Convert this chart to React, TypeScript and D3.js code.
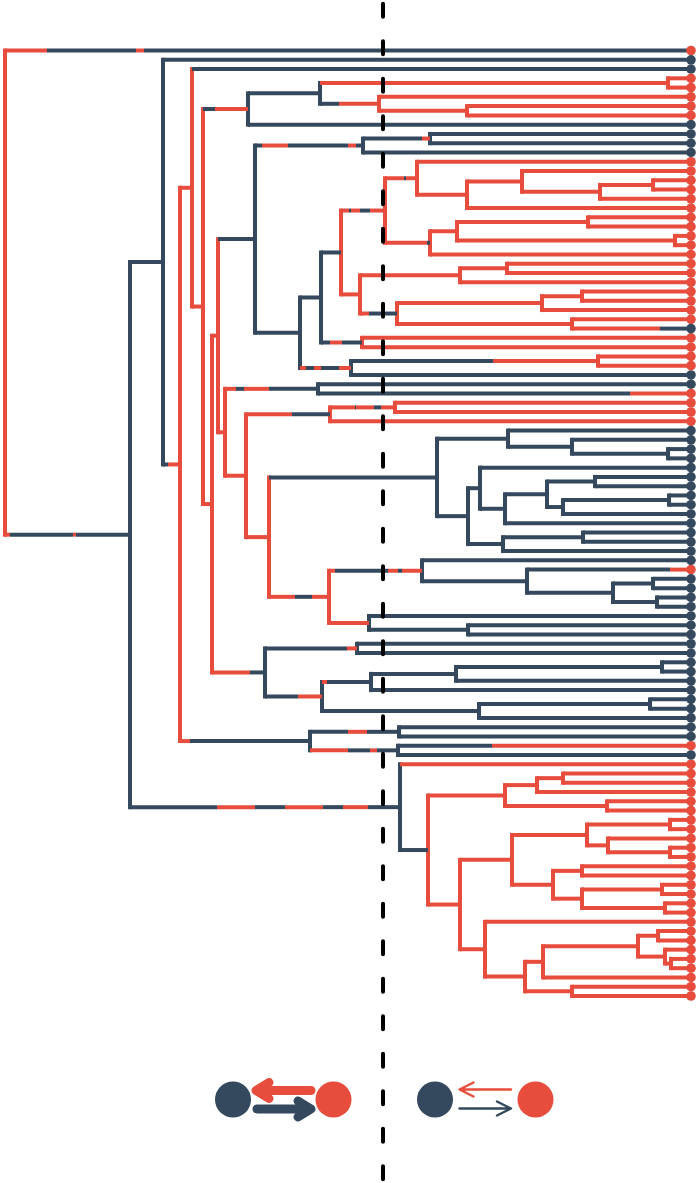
import React, { useMemo } from "react";
import * as d3 from "d3";

const BLUE = "#34495e";
const RED = "#e74c3c";
const STATE_COLOR: Record<string, string> = { b: BLUE, r: RED };

// Tree nodes: [id, parent, node depth (null = tip), branch painting (state + change points), node mark (vertical / tip state)]
const NODES: [string, string, number | null, string, string][] = [
  ["root", "", 5, "", "r"],
  ["t0", "root", null, "r47b136r144b", "r"],
  ["N1", "root", 130, "r10b73r76b", "b"],
  ["N2", "N1", 163, "b", "b"],
  ["t1", "N2", null, "b", "b"],
  ["N3", "N2", 180, "b168r", "r"],
  ["N4", "N3", 192, "r", "r"],
  ["t2", "N4", null, "b", "b"],
  ["N5", "N4", 203, "r", "r"],
  ["N6", "N5", 248, "b215r", "b"],
  ["N7", "N6", 320, "b", "b"],
  ["C34", "N7", 668, "r", "r"],
  ["t3", "C34", null, "r", "r"],
  ["t4", "C34", null, "r", "r"],
  ["AA", "N7", 379, "b339r", "r"],
  ["t5", "AA", null, "r", "r"],
  ["C67", "AA", 467, "r", "r"],
  ["t6", "C67", null, "r", "r"],
  ["t7", "C67", null, "r", "r"],
  ["t8", "N6", null, "b", "b"],
  ["N8", "N5", 212, "r", "r"],
  ["N9", "N8", 218, "r", "r"],
  ["Y", "N9", 255, "b", "b"],
  ["Z", "Y", 363, "b262r288b348r356b", "b"],
  ["C910", "Z", 430, "b422r", "b"],
  ["t9", "C910", null, "b", "b"],
  ["t10", "C910", null, "b", "b"],
  ["t11", "Z", null, "b", "b"],
  ["X", "Y", 300, "b", "b"],
  ["T", "X", 321, "b", "b"],
  ["Q", "T", 341, "b", "r"],
  ["P", "Q", 385, "r349b351r360b370r", "r"],
  ["A", "P", 417, "r404b406r", "r"],
  ["t12", "A", null, "r", "r"],
  ["B", "A", 467, "r", "r"],
  ["C", "B", 522, "r", "r"],
  ["t13", "C", null, "r", "r"],
  ["D", "C", 600, "r", "r"],
  ["E", "D", 653, "r", "r"],
  ["t14", "E", null, "r", "r"],
  ["t15", "E", null, "r", "r"],
  ["t16", "D", null, "r", "r"],
  ["t17", "B", null, "r", "r"],
  ["F", "P", 430, "r427b", "r"],
  ["G", "F", 457, "r", "r"],
  ["H", "G", 588, "r", "r"],
  ["t18", "H", null, "r", "r"],
  ["t19", "H", null, "r", "r"],
  ["I", "G", 675, "r", "r"],
  ["t20", "I", null, "r", "r"],
  ["t21", "I", null, "r", "r"],
  ["t22", "F", null, "r", "r"],
  ["R", "Q", 360, "r", "r"],
  ["J", "R", 460, "r", "r"],
  ["K", "J", 507, "r", "r"],
  ["t23", "K", null, "r", "r"],
  ["t24", "K", null, "r", "r"],
  ["t25", "J", null, "r", "r"],
  ["S", "R", 397, "r369b", "r"],
  ["L", "S", 542, "r", "r"],
  ["M", "L", 582, "r", "r"],
  ["t26", "M", null, "r", "r"],
  ["t27", "M", null, "r", "r"],
  ["t28", "L", null, "r", "r"],
  ["C2930", "S", 572, "r", "r"],
  ["t29", "C2930", null, "r", "r"],
  ["t30", "C2930", null, "r660b", "b"],
  ["U", "T", 362, "b330r342b", "r"],
  ["t31", "U", null, "r", "r"],
  ["t32", "U", null, "r", "r"],
  ["V", "X", 351, "r306b314r321b339r", "b"],
  ["W", "V", 598, "b493r", "r"],
  ["t33", "W", null, "r", "r"],
  ["t34", "W", null, "r", "r"],
  ["t35", "V", null, "b", "b"],
  ["N10", "N9", 225, "r", "r"],
  ["O", "N10", 318, "r236b244r269b", "b"],
  ["t36", "O", null, "b", "b"],
  ["t37", "O", null, "b630r", "r"],
  ["N11", "N10", 246, "r", "r"],
  ["NN", "N11", 330, "r292b", "r"],
  ["C3839", "NN", 395, "r355b356r374b381r", "r"],
  ["t38", "C3839", null, "r", "r"],
  ["t39", "C3839", null, "r", "r"],
  ["t40", "NN", null, "r", "r"],
  ["N14", "N11", 269, "r", "r"],
  ["BC", "N14", 437, "b", "b"],
  ["BC1", "BC", 508, "b", "b"],
  ["t41", "BC1", null, "b", "b"],
  ["BC2", "BC1", 572, "b", "b"],
  ["t42", "BC2", null, "b", "b"],
  ["C4344", "BC2", 668, "b", "b"],
  ["t43", "C4344", null, "b", "b"],
  ["t44", "C4344", null, "b", "b"],
  ["BC3", "BC", 468, "b", "b"],
  ["BC4", "BC3", 480, "b", "b"],
  ["t45", "BC4", null, "b", "b"],
  ["BC5", "BC4", 505, "b", "b"],
  ["BC6", "BC5", 547, "b", "b"],
  ["C4647", "BC6", 595, "b", "b"],
  ["t46", "C4647", null, "b", "b"],
  ["t47", "C4647", null, "b", "b"],
  ["BC7", "BC6", 563, "b", "b"],
  ["C4849", "BC7", 669, "b", "b"],
  ["t48", "C4849", null, "b", "b"],
  ["t49", "C4849", null, "b", "b"],
  ["t50", "BC7", null, "b", "b"],
  ["t51", "BC5", null, "b", "b"],
  ["BC8", "BC3", 503, "b", "b"],
  ["C5253", "BC8", 583, "b", "b"],
  ["t52", "C5253", null, "b", "b"],
  ["t53", "C5253", null, "b", "b"],
  ["t54", "BC8", null, "b", "b"],
  ["N13", "N14", 329, "r295b312r", "r"],
  ["G55", "N13", 422, "r335b388r398b402r", "b"],
  ["t55", "G55", null, "b", "b"],
  ["G56", "G55", 527, "b", "b"],
  ["t56", "G56", null, "b670r", "r"],
  ["G57", "G56", 613, "b", "b"],
  ["C5758", "G57", 653, "b", "b"],
  ["t57", "C5758", null, "b", "b"],
  ["t58", "C5758", null, "b", "b"],
  ["C5960", "G57", 657, "b", "b"],
  ["t59", "C5960", null, "b", "b"],
  ["t60", "C5960", null, "b", "b"],
  ["N369", "N13", 369, "r", "b"],
  ["t61", "N369", null, "b", "b"],
  ["C6263", "N369", 468, "b", "b"],
  ["t62", "C6263", null, "b", "b"],
  ["t63", "C6263", null, "b", "b"],
  ["N15", "N8", 265, "r250b", "b"],
  ["C6465", "N15", 357, "b347r", "b"],
  ["t64", "C6465", null, "b", "b"],
  ["t65", "C6465", null, "b", "b"],
  ["N321", "N15", 322, "b298r", "b"],
  ["N371", "N321", 371, "r327b", "b"],
  ["N456", "N371", 456, "b", "b"],
  ["C6667", "N456", 662, "b", "b"],
  ["t66", "C6667", null, "b", "b"],
  ["t67", "C6667", null, "b", "b"],
  ["t68", "N456", null, "b", "b"],
  ["t69", "N371", null, "b", "b"],
  ["N479", "N321", 479, "b", "b"],
  ["C7071", "N479", 650, "b", "b"],
  ["t70", "C7071", null, "b", "b"],
  ["t71", "C7071", null, "b", "b"],
  ["t72", "N479", null, "b", "b"],
  ["N12", "N3", 310, "r190b", "b"],
  ["C7374", "N12", 399, "b348r367b", "b"],
  ["t73", "C7374", null, "b", "b"],
  ["t74", "C7374", null, "b", "b"],
  ["C7576", "N12", 398, "r348b370r377b", "b"],
  ["t75", "C7576", null, "b492r", "r"],
  ["t76", "C7576", null, "b", "b"],
  ["BB", "N1", 400, "b217r255b285r323b343r368b", "b"],
  ["t77", "BB", null, "r", "r"],
  ["N428", "BB", 428, "b", "r"],
  ["N505", "N428", 505, "r", "r"],
  ["N537", "N505", 537, "r", "r"],
  ["C7879", "N537", 563, "r", "r"],
  ["t78", "C7879", null, "r", "r"],
  ["t79", "C7879", null, "r", "r"],
  ["t80", "N537", null, "r", "r"],
  ["C8182", "N505", 607, "r", "r"],
  ["t81", "C8182", null, "r", "r"],
  ["t82", "C8182", null, "r", "r"],
  ["N460", "N428", 460, "r", "r"],
  ["N512", "N460", 512, "r", "r"],
  ["N587", "N512", 587, "r", "r"],
  ["C8384", "N587", 670, "r", "r"],
  ["t83", "C8384", null, "r", "r"],
  ["t84", "C8384", null, "r", "r"],
  ["N608", "N587", 608, "r", "r"],
  ["t85", "N608", null, "r", "r"],
  ["C8687", "N608", 670, "r", "r"],
  ["t86", "C8687", null, "r", "r"],
  ["t87", "C8687", null, "r", "r"],
  ["N553", "N512", 553, "r", "r"],
  ["C8889", "N553", 582, "r", "r"],
  ["t88", "C8889", null, "r", "r"],
  ["t89", "C8889", null, "r", "r"],
  ["N582", "N553", 582, "r", "r"],
  ["C9091", "N582", 662, "r", "r"],
  ["t90", "C9091", null, "r", "r"],
  ["t91", "C9091", null, "r", "r"],
  ["C9293", "N582", 665, "r", "r"],
  ["t92", "C9293", null, "r", "r"],
  ["t93", "C9293", null, "r", "r"],
  ["N485", "N460", 485, "r", "r"],
  ["t94", "N485", null, "r", "r"],
  ["N525", "N485", 525, "r", "r"],
  ["N543", "N525", 543, "r", "r"],
  ["N638", "N543", 638, "r", "r"],
  ["C9596", "N638", 658, "r", "r"],
  ["t95", "C9596", null, "r", "r"],
  ["t96", "C9596", null, "r", "r"],
  ["N665", "N638", 665, "r", "r"],
  ["t97", "N665", null, "r", "r"],
  ["C9899", "N665", 671, "r", "r"],
  ["t98", "C9899", null, "r", "r"],
  ["t99", "C9899", null, "r", "r"],
  ["t100", "N543", null, "r", "r"],
  ["C101102", "N525", 572, "r", "r"],
  ["t101", "C101102", null, "r", "r"],
  ["t102", "C101102", null, "r", "r"],
];

const DEPTH_DOMAIN = [5, 691];
const TIP_DEPTH = 691;

const W = 700;
const H = 1183;
const LW = 4;
const DOT_R = 4.8;

type Seg = { x1: number; x2: number; y: number; c: string };

export default function App() {
  const layout = useMemo(() => {
    const xScale = d3.scaleLinear().domain(DEPTH_DOMAIN).range([5, 691]);
    const root = d3
      .stratify<[string, string, number | null, string, string]>()
      .id((d) => d[0])
      .parentId((d) => (d[1] ? d[1] : null))(NODES);
    const leaves = root.leaves();
    const yScale = d3.scaleLinear().domain([0, leaves.length - 1]).range([50.5, 996]);
    const pos = new Map<string, { x: number; y: number }>();
    leaves.forEach((l, i) => {
      pos.set(l.id!, { x: xScale(TIP_DEPTH), y: yScale(i) });
    });
    root.eachAfter((n) => {
      if (n.children) {
        const y = d3.mean(n.children, (c) => pos.get(c.id!)!.y)!;
        pos.set(n.id!, { x: xScale(n.data[2] as number), y });
      }
    });
    const verts: { x: number; y1: number; y2: number; c: string }[] = [];
    const segs: Seg[] = [];
    const dots: { x: number; y: number; c: string }[] = [];
    root.each((n) => {
      const p = pos.get(n.id!)!;
      if (n.children) {
        const ys = n.children.map((c) => pos.get(c.id!)!.y);
        verts.push({ x: p.x, y1: d3.min(ys)!, y2: d3.max(ys)!, c: STATE_COLOR[n.data[4]] });
      } else {
        dots.push({ x: p.x, y: p.y, c: STATE_COLOR[n.data[4]] });
      }
      if (n.parent) {
        const start = pos.get(n.parent.id!)!.x;
        const end = p.x;
        const re = /([rb])(\d+(?:\.\d+)?)?/g;
        let m: RegExpExecArray | null;
        let cur = start;
        while ((m = re.exec(n.data[3])) !== null) {
          const to = m[2] !== undefined ? xScale(parseFloat(m[2])) : end;
          segs.push({ x1: cur, x2: to, y: p.y, c: STATE_COLOR[m[1]] });
          cur = to;
        }
      }
    });
    return { verts, segs, dots };
  }, []);

  const arrowHead = (tx: number, ty: number, dir: number, len: number, half: number) =>
    `M${tx - dir * len},${ty - half}L${tx},${ty}L${tx - dir * len},${ty + half}`;

  return (
    <svg
      width={W}
      height={H}
      style={{ position: "absolute", left: 0, top: 0, background: "#fff" }}
    >
      <g>
        {layout.verts.map((v, i) => (
          <line
            key={"v" + i}
            x1={v.x}
            x2={v.x}
            y1={v.y1}
            y2={v.y2}
            stroke={v.c}
            strokeWidth={LW}
            strokeLinecap="square"
          />
        ))}
        {layout.segs.map((s, i) => (
          <line
            key={"h" + i}
            x1={s.x1}
            x2={s.x2}
            y1={s.y}
            y2={s.y}
            stroke={s.c}
            strokeWidth={LW}
          />
        ))}
        {layout.dots.map((d, i) => (
          <circle key={"d" + i} cx={d.x} cy={d.y} r={DOT_R} fill={d.c} />
        ))}
      </g>
      <line
        x1={383}
        x2={383}
        y1={0}
        y2={H}
        stroke="#000"
        strokeWidth={4}
        strokeDasharray="13 24.5"
        strokeDashoffset={-3.7}
        strokeLinecap="round"
      />
      <g>
        <circle cx={233} cy={1099.5} r={18} fill={BLUE} />
        <circle cx={333.5} cy={1099.5} r={18} fill={RED} />
        <path
          d={`M311,1090.5L257,1090.5` + arrowHead(256, 1090.5, -1, 13, 8)}
          fill="none"
          stroke={RED}
          strokeWidth={9}
          strokeLinecap="round"
          strokeLinejoin="round"
        />
        <path
          d={`M257,1109L310,1109` + arrowHead(311, 1109, 1, 13, 8)}
          fill="none"
          stroke={BLUE}
          strokeWidth={9}
          strokeLinecap="round"
          strokeLinejoin="round"
        />
        <circle cx={435} cy={1099.5} r={18} fill={BLUE} />
        <circle cx={535.5} cy={1099.5} r={18} fill={RED} />
        <path
          d={`M511,1089.5L460,1089.5` + arrowHead(459.5, 1089.5, -1, 14, 7)}
          fill="none"
          stroke={RED}
          strokeWidth={2.4}
          strokeLinecap="round"
          strokeLinejoin="round"
        />
        <path
          d={`M459.5,1108.5L510,1108.5` + arrowHead(511, 1108.5, 1, 14, 7)}
          fill="none"
          stroke={BLUE}
          strokeWidth={2.4}
          strokeLinecap="round"
          strokeLinejoin="round"
        />
      </g>
    </svg>
  );
}
